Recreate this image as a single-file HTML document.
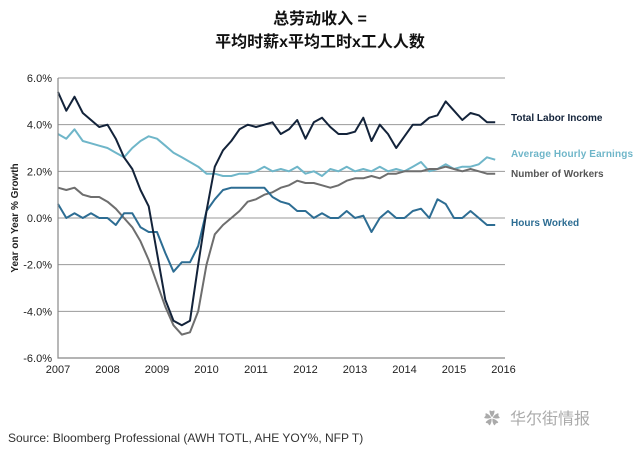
<!DOCTYPE html>
<html><head><meta charset="utf-8">
<style>
body{margin:0;background:#fff;width:635px;height:454px;overflow:hidden;font-family:"Liberation Sans","Noto Sans CJK SC",sans-serif;}
</style></head>
<body>
<svg id="chart" width="635" height="454" xmlns="http://www.w3.org/2000/svg" font-family="Liberation Sans, Noto Sans CJK SC, sans-serif">
<text x="320" y="24" text-anchor="middle" font-size="16" font-weight="bold" fill="#111">总劳动收入 =</text>
<text x="320" y="47" text-anchor="middle" font-size="16" font-weight="bold" fill="#111">平均时薪x平均工时x工人人数</text>
<text transform="translate(18,218) rotate(-90)" text-anchor="middle" font-size="10" font-weight="bold" fill="#222">Year on Year % Growth</text>
<g id="grid"></g><g id="series"></g><g id="axes"></g>
<text x="8" y="442" font-size="12" fill="#333">Source: Bloomberg Professional (AWH TOTL, AHE YOY%, NFP T)</text>
<text x="510" y="424" font-size="16" fill="#aaa">华尔街情报</text>
<text x="484" y="424" font-size="16" fill="#aaa">✿</text>
</svg>
<script>
const years=[2007,2008,2009,2010,2011,2012,2013,2014,2015,2016];
const yTicks=[6,4,2,0,-2,-4,-6];
const yTickLabels=["6.0%","4.0%","2.0%","0.0%","-2.0%","-4.0%","-6.0%"];
const totalLabor=[5.4,4.6,5.2,4.5,4.2,3.9,4.0,3.4,2.6,2.1,1.2,0.5,-1.5,-3.5,-4.4,-4.6,-4.4,-2.0,0.3,2.2,2.9,3.3,3.8,4.0,3.9,4.0,4.1,3.6,3.8,4.2,3.4,4.1,4.3,3.9,3.6,3.6,3.7,4.3,3.3,4.0,3.6,3.0,3.5,4.0,4.0,4.3,4.4,5.0,4.6,4.2,4.5,4.4,4.1,4.1];
const hourlyEarnings=[3.6,3.4,3.8,3.3,3.2,3.1,3.0,2.8,2.6,3.0,3.3,3.5,3.4,3.1,2.8,2.6,2.4,2.2,1.9,1.9,1.8,1.8,1.9,1.9,2.0,2.2,2.0,2.1,2.0,2.2,1.9,2.0,1.8,2.1,2.0,2.2,2.0,2.1,2.0,2.2,2.0,2.1,2.0,2.2,2.4,2.0,2.1,2.3,2.1,2.2,2.2,2.3,2.6,2.5];
const workers=[1.3,1.2,1.3,1.0,0.9,0.9,0.7,0.4,0.0,-0.4,-1.0,-1.8,-2.8,-3.8,-4.6,-5.0,-4.9,-4.0,-2.0,-0.7,-0.3,0.0,0.3,0.7,0.8,1.0,1.1,1.3,1.4,1.6,1.5,1.5,1.4,1.3,1.4,1.6,1.7,1.7,1.8,1.7,1.9,1.9,2.0,2.0,2.0,2.1,2.1,2.2,2.1,2.0,2.1,2.0,1.9,1.9];
const hoursWorked=[0.6,0.0,0.2,0.0,0.2,0.0,0.0,-0.3,0.2,0.2,-0.4,-0.6,-0.6,-1.5,-2.3,-1.9,-1.9,-1.2,0.3,0.8,1.2,1.3,1.3,1.3,1.3,1.3,0.9,0.7,0.6,0.3,0.3,0.0,0.2,0.0,0.0,0.3,0.0,0.1,-0.6,0.0,0.3,0.0,0.0,0.3,0.4,0.0,0.8,0.6,0.0,0.0,0.3,0.0,-0.3,-0.3];
const seriesNames=["Total Labor Income","Average Hourly Earnings","Number of Workers","Hours Worked"];
const NS="http://www.w3.org/2000/svg";
const X=t=>58+49.5*(t-2007);
const Y=v=>218-v*23.33;
function mk(tag,attrs,parent){const e=document.createElementNS(NS,tag);for(const k in attrs)e.setAttribute(k,attrs[k]);parent.appendChild(e);return e;}
const grid=document.getElementById('grid'),axes=document.getElementById('axes'),ser=document.getElementById('series');
yTicks.forEach((v,i)=>{
 if(v!==-6){const l=mk('line',{x1:58,x2:505,y1:Y(v),y2:Y(v),stroke:'#999','stroke-width':1},grid);
 
 }
 const t=mk('text',{x:52,y:Y(v)+4,'text-anchor':'end','font-size':11,fill:'#222'},axes);t.textContent=yTickLabels[i];
 
 
});
const ax=mk('path',{d:`M58 ${Y(6)} V${Y(-6)} H505`,fill:'none',stroke:'#888','stroke-width':1.2},axes);


years.forEach(yr=>{const t=mk('text',{x:X(yr),y:Y(-6)+15,'text-anchor':'middle','font-size':11,fill:'#222'},axes);t.textContent=yr;
 
 });
const defs=[[hourlyEarnings,'#6fb6c9','series-average-hourly-earnings'],[workers,'#6e6e6e','series-number-of-workers'],[hoursWorked,'#2d6d93','series-hours-worked'],[totalLabor,'#13233a','series-total-labor-income']];
defs.forEach(([d,c,n])=>{
 const pts=d.map((v,i)=>X(2007+i/6).toFixed(1)+','+Y(v).toFixed(1)).join(' ');
 const p=mk('polyline',{points:pts,fill:'none',stroke:c,'stroke-width':2,'stroke-linejoin':'round'},ser);
 
 
});
const labelColors=['#13233a','#6fb6c9','#555','#2d6d93'];
const ly=[121,157,177,226];
seriesNames.forEach((n,i)=>{const t=mk('text',{x:511,y:ly[i],'font-size':10,'font-weight':'bold',fill:labelColors[i],textLength:i===1?122:null},axes);
 if(i!==1)t.removeAttribute('textLength');
 t.textContent=n;
 
 });
</script>
</body></html>
